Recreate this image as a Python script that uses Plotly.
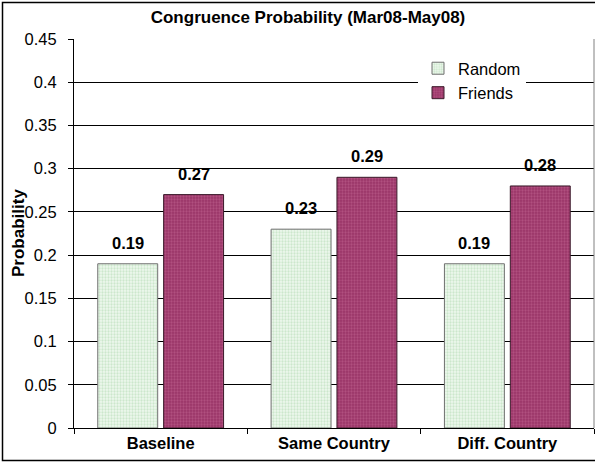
import plotly.graph_objects as go

categories = ["Baseline", "Same Country", "Diff. Country"]
random_vals = [0.19, 0.23, 0.19]
friends_vals = [0.27, 0.29, 0.28]
series_names = ["Random", "Friends"]
y_ticks = [0, 0.05, 0.1, 0.15, 0.2, 0.25, 0.3, 0.35, 0.4, 0.45]
y_tick_labels = ["0", "0.05", "0.1", "0.15", "0.2", "0.25", "0.3", "0.35", "0.4", "0.45"]
title_text = "Congruence Probability (Mar08-May08)"
y_title = "Probability"

FONT = "Liberation Sans, Arial, sans-serif"
W, H = 595, 463
L, R, T, B = 74, 1, 39, 35
pw = W - L - R
ph = H - T - B

fig = go.Figure()
fig.add_trace(go.Bar(
    x=categories, y=random_vals, name=series_names[0],
    marker=dict(color="#E4F2E4",
                line=dict(color="#707070", width=1),
                pattern=dict(shape=".", fgcolor="#A9D6A9", bgcolor="#EEF8EE", size=3, solidity=0.45)),
))
fig.add_trace(go.Bar(
    x=categories, y=friends_vals, name=series_names[1],
    marker=dict(color="#A3406F",
                line=dict(color="#3A1A2A", width=1),
                pattern=dict(shape=".", fgcolor="#C56B96", bgcolor="#9A3568", size=3, solidity=0.45)),
))

annotations = []
for vals, shift in ((random_vals, -33), (friends_vals, 33)):
    for c, v in zip(categories, vals):
        annotations.append(dict(
            x=c, y=v, xref="x", yref="y", text=f"<b>{v:.2f}</b>",
            showarrow=False, xshift=shift, yshift=10, yanchor="bottom",
            font=dict(family=FONT, size=16.5, color="black")))

annotations.append(dict(
    x=(18 - L) / pw, y=(H - B - 233) / ph, xref="paper", yref="paper", text=f"<b>{y_title}</b>",
    textangle=-90, showarrow=False, xanchor="center", yanchor="middle",
    font=dict(family=FONT, size=17, color="black")))

fig.update_layout(
    width=W, height=H,
    margin=dict(l=L, r=R, t=T, b=B, pad=0),
    paper_bgcolor="white", plot_bgcolor="white",
    barmode="group", bargap=0.24, bargroupgap=0.09,
    title=dict(text=f"<b>{title_text}</b>", x=308 / W, xanchor="center",
               y=1 - 17 / H, yanchor="middle",
               font=dict(family=FONT, size=17, color="black")),
    font=dict(family=FONT, size=16, color="black"),
    showlegend=True,
    legend=dict(x=(418 - L) / pw, y=(H - B - 51) / ph, xanchor="left", yanchor="top",
                bgcolor="white", borderwidth=0, font=dict(family=FONT, size=16.5),
                itemwidth=30, tracegroupgap=0),
    annotations=annotations,
    shapes=[dict(type="rect", xref="paper", yref="paper",
                 x0=(2.5 - L) / pw, x1=(598 - L) / pw,
                 y0=(H - B - 460.5) / ph, y1=(H - B - 2.5) / ph,
                 line=dict(color="black", width=1.5), fillcolor="rgba(0,0,0,0)", layer="above")],
)

fig.update_xaxes(
    showgrid=False, showline=True, linecolor="black", linewidth=1, mirror=False,
    ticks="outside", tickson="boundaries", ticklen=5, tickcolor="black",
    tickfont=dict(family=FONT, size=16.5, color="black", weight="bold"),
)
fig.update_yaxes(
    range=[0, 0.45], tickvals=y_ticks, ticktext=y_tick_labels,
    showgrid=True, gridcolor="black", gridwidth=1,
    showline=True, linecolor="black", linewidth=1,
    ticks="outside", ticklen=5, tickcolor="black", ticklabelstandoff=8,
    tickfont=dict(family=FONT, size=16.5, color="black"),
    zeroline=False,
)
# right border of plot area
fig.add_shape(type="line", xref="paper", yref="paper", x0=1, x1=1, y0=0, y1=1,
              line=dict(color="#808080", width=1))

fig.write_html("out.html", config={"displayModeBar": False},
               post_script="document.body.style.margin='0';document.body.style.overflow='hidden';")
